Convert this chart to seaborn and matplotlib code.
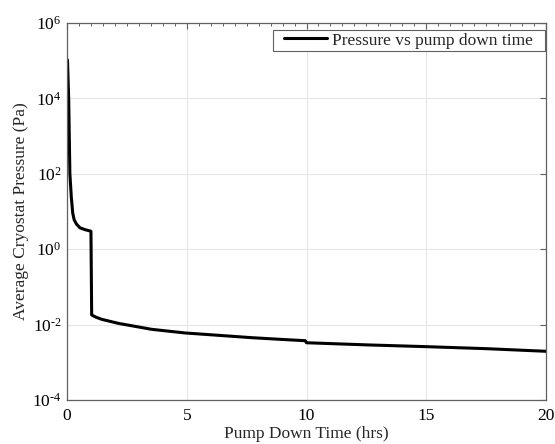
import math
import matplotlib
matplotlib.use("Agg")
import matplotlib.pyplot as plt
import matplotlib.ticker as mticker
from matplotlib.lines import Line2D
from matplotlib.legend_handler import HandlerLine2D
from matplotlib.patches import Rectangle
import pandas as pd
import seaborn as sns

# Pump-down record: time (hours) and average cryostat pressure (Pa)
time_hrs = [0.02, 0.07, 0.12, 0.18, 0.24, 0.30, 0.40, 0.54, 0.75, 1.0,
            1.03, 1.2, 1.45, 2.14, 3.53, 4.93, 6.32, 7.71, 9.1, 9.95,
            10.0, 12.5, 15.0, 17.5, 20.0]
pressure_pa = [1.05e5, 1.0e4, 1.0e2, 2.4e1, 9.0, 6.0, 4.6, 3.7, 3.3, 3.0,
               0.018, 0.0158, 0.0138, 0.0108, 0.0075, 0.0060, 0.0052,
               0.0045, 0.0040, 0.00374,
               0.0033, 0.0029, 0.0026, 0.0023, 0.00196]

x_ticks = [0, 5, 10, 15, 20]
y_ticks = [1e-4, 1e-2, 1e0, 1e2, 1e4, 1e6]
series_label = "Pressure vs pump down time"

df = pd.DataFrame({"t": time_hrs, "p": pressure_pa, "series": series_label})

sns.set_style("white")
plt.rcParams["font.family"] = ["Liberation Serif", "DejaVu Serif"]
plt.rcParams["mathtext.fontset"] = "custom"
plt.rcParams["mathtext.rm"] = "Liberation Serif"
plt.rcParams["mathtext.it"] = "Liberation Serif:italic"
plt.rcParams["mathtext.bf"] = "Liberation Serif:bold"
plt.rcParams["axes.unicode_minus"] = False

axis_color = "#606060"
fs = 12.5
W, H = 555, 444


def decade_label(v, pos):
    exp = int(round(math.log10(v)))
    sign = r"\text{-}" if exp < 0 else ""
    return r"$\mathrm{10}^{%s%d}$" % (sign, abs(exp))


fig = plt.figure(figsize=(W / 100, H / 100), dpi=100)
ax = fig.add_axes([67 / W, 44 / H, 479 / W, 377 / H])

sns.lineplot(data=df, x="t", y="p", hue="series", palette=["black"],
             linewidth=2.2, ax=ax, sort=False, estimator=None)

ax.set_yscale("log")
ax.set_xlim(0, 20)
ax.set_ylim(1e-4, 1e6)
ax.xaxis.set_major_locator(mticker.FixedLocator(x_ticks))
ax.xaxis.set_minor_locator(mticker.MultipleLocator(0.5))
ax.yaxis.set_major_locator(mticker.FixedLocator(y_ticks))
ax.yaxis.set_major_formatter(mticker.FuncFormatter(decade_label))
ax.yaxis.set_minor_locator(mticker.NullLocator())

ax.grid(True, which="major", color="#e6e6e6", linewidth=0.8)
ax.set_axisbelow(True)

for s in ax.spines.values():
    s.set_visible(True)
    s.set_color(axis_color)
    s.set_linewidth(0.9)

ax.tick_params(which="both", direction="in", top=True, right=True,
               color=axis_color, labelcolor="black", labelsize=fs)
ax.tick_params(which="major", length=4, width=0.8)
ax.tick_params(axis="x", which="major", pad=6)
ax.tick_params(axis="y", which="major", pad=4)
ax.tick_params(which="minor", length=2.5, width=0.7)

ax.set_xlabel("Pump Down Time (hrs)", fontsize=fs, labelpad=1)
ax.set_ylabel("Average Cryostat Pressure (Pa)", fontsize=fs, labelpad=2)

# Legend entry without its own frame; a boxed outline is drawn behind it
leg = ax.legend(loc="center right",
                bbox_to_anchor=(533 / W, 1 - 40.5 / H),
                bbox_transform=fig.transFigure,
                borderaxespad=0, borderpad=0, fontsize=fs, frameon=False,
                handlelength=2.5, handletextpad=0.3,
                handler_map={Line2D: HandlerLine2D(xpad=0.0)})
leg.set_zorder(6)

box = Rectangle((273 / W, 1 - 51 / H), 272 / W, 21 / H,
                transform=fig.transFigure, facecolor="white",
                edgecolor=axis_color, linewidth=0.8, zorder=5.5,
                clip_on=False)
ax.add_patch(box)

fig.savefig("out.png", dpi=100)
